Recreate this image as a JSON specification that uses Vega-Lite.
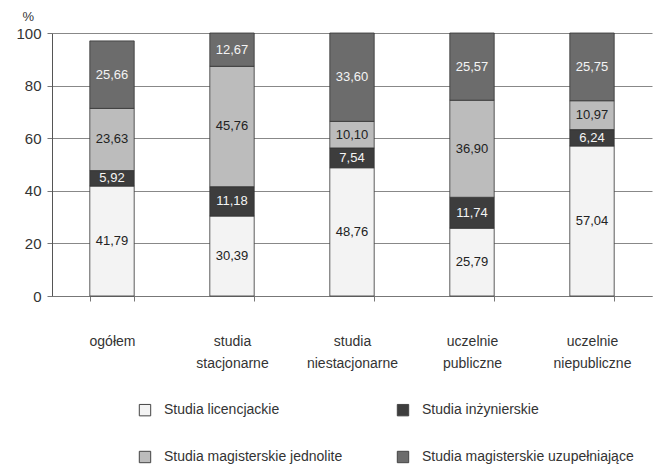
{
  "$schema": "https://vega.github.io/schema/vega-lite/v6.json",
  "autosize": "none",
  "width": 600,
  "height": 263,
  "padding": {"left": 52, "top": 33, "right": 15, "bottom": 174},
  "background": "white",
  "config": {
    "font": "Liberation Sans, Arial, sans-serif",
    "view": {"stroke": null},
    "locale": {"number": {"decimal": ",", "thousands": " ", "grouping": [3], "currency": ["", " zł"]}}
  },
  "data": {
    "values": [
      {"grupa": "ogółem", "typ": "Studia licencjackie", "kol": 1, "wartosc": 41.79},
      {"grupa": "ogółem", "typ": "Studia inżynierskie", "kol": 2, "wartosc": 5.92},
      {"grupa": "ogółem", "typ": "Studia magisterskie jednolite", "kol": 3, "wartosc": 23.63},
      {"grupa": "ogółem", "typ": "Studia magisterskie uzupełniające", "kol": 4, "wartosc": 25.66},
      {"grupa": "studia stacjonarne", "typ": "Studia licencjackie", "kol": 1, "wartosc": 30.39},
      {"grupa": "studia stacjonarne", "typ": "Studia inżynierskie", "kol": 2, "wartosc": 11.18},
      {"grupa": "studia stacjonarne", "typ": "Studia magisterskie jednolite", "kol": 3, "wartosc": 45.76},
      {"grupa": "studia stacjonarne", "typ": "Studia magisterskie uzupełniające", "kol": 4, "wartosc": 12.67},
      {"grupa": "studia niestacjonarne", "typ": "Studia licencjackie", "kol": 1, "wartosc": 48.76},
      {"grupa": "studia niestacjonarne", "typ": "Studia inżynierskie", "kol": 2, "wartosc": 7.54},
      {"grupa": "studia niestacjonarne", "typ": "Studia magisterskie jednolite", "kol": 3, "wartosc": 10.10},
      {"grupa": "studia niestacjonarne", "typ": "Studia magisterskie uzupełniające", "kol": 4, "wartosc": 33.60},
      {"grupa": "uczelnie publiczne", "typ": "Studia licencjackie", "kol": 1, "wartosc": 25.79},
      {"grupa": "uczelnie publiczne", "typ": "Studia inżynierskie", "kol": 2, "wartosc": 11.74},
      {"grupa": "uczelnie publiczne", "typ": "Studia magisterskie jednolite", "kol": 3, "wartosc": 36.90},
      {"grupa": "uczelnie publiczne", "typ": "Studia magisterskie uzupełniające", "kol": 4, "wartosc": 25.57},
      {"grupa": "uczelnie niepubliczne", "typ": "Studia licencjackie", "kol": 1, "wartosc": 57.04},
      {"grupa": "uczelnie niepubliczne", "typ": "Studia inżynierskie", "kol": 2, "wartosc": 6.24},
      {"grupa": "uczelnie niepubliczne", "typ": "Studia magisterskie jednolite", "kol": 3, "wartosc": 10.97},
      {"grupa": "uczelnie niepubliczne", "typ": "Studia magisterskie uzupełniające", "kol": 4, "wartosc": 25.75}
    ]
  },
  "encoding": {
    "x": {
      "field": "grupa",
      "type": "nominal",
      "sort": null,
      "scale": {"paddingInner": 0.63, "paddingOuter": 0.315},
      "axis": {
        "title": null,
        "labelAngle": 0,
        "labelExpr": "split(datum.label, ' ')",
        "labelFontSize": 14,
        "labelColor": "#333",
        "labelLineHeight": 22,
        "labelBaseline": "middle",
        "labelPadding": 40,
        "tickBand": "extent",
        "tickSize": 5,
        "tickColor": "#777",
        "domainColor": "#777",
        "grid": false
      }
    }
  },
  "layer": [
    {
      "mark": {"type": "bar", "stroke": "#333", "strokeWidth": 0.8},
      "encoding": {
        "y": {
          "field": "wartosc",
          "type": "quantitative",
          "stack": "zero",
          "scale": {"domain": [0, 100], "nice": false},
          "axis": {
            "title": "%",
            "titleAngle": 0,
            "titleAlign": "left",
            "titleBaseline": "bottom",
            "titleX": -30,
            "titleY": -10,
            "titleFontSize": 13,
            "titleFontWeight": "normal",
            "titleColor": "#333",
            "values": [0, 20, 40, 60, 80, 100],
            "labelFontSize": 15,
            "labelColor": "#333",
            "labelPadding": 6,
            "tickSize": 5,
            "tickColor": "#777",
            "domainColor": "#555",
            "gridColor": "#888",
            "gridWidth": 1
          }
        },
        "color": {
          "field": "typ",
          "type": "nominal",
          "sort": ["Studia licencjackie", "Studia inżynierskie", "Studia magisterskie jednolite", "Studia magisterskie uzupełniające"],
          "scale": {
            "domain": ["Studia licencjackie", "Studia inżynierskie", "Studia magisterskie jednolite", "Studia magisterskie uzupełniające"],
            "range": ["#f3f3f3", "#3d3d3d", "#bcbcbc", "#6c6c6c"]
          },
          "legend": {
            "title": null,
            "orient": "none",
            "direction": "horizontal",
            "legendX": 86,
            "legendY": 370,
            "columns": 2,
            "columnPadding": 52,
            "rowPadding": 31,
            "symbolType": "square",
            "symbolSize": 130,
            "symbolStrokeColor": "#444",
            "symbolStrokeWidth": 1,
            "labelFontSize": 14,
            "labelColor": "#333",
            "labelOffset": 12,
            "labelLimit": 300
          }
        },
        "order": {"field": "kol", "type": "quantitative"}
      }
    },
    {
      "mark": {"type": "text", "fontSize": 13, "baseline": "middle", "align": "center"},
      "encoding": {
        "y": {"field": "wartosc", "type": "quantitative", "stack": "zero", "bandPosition": 0.5},
        "detail": {"field": "typ"},
        "order": {"field": "kol", "type": "quantitative"},
        "text": {"field": "wartosc", "type": "quantitative", "format": ".2f"},
        "color": {
          "condition": {"test": "datum.kol === 1 || datum.kol === 3", "value": "#222"},
          "value": "#f4f4f4"
        }
      }
    }
  ]
}
